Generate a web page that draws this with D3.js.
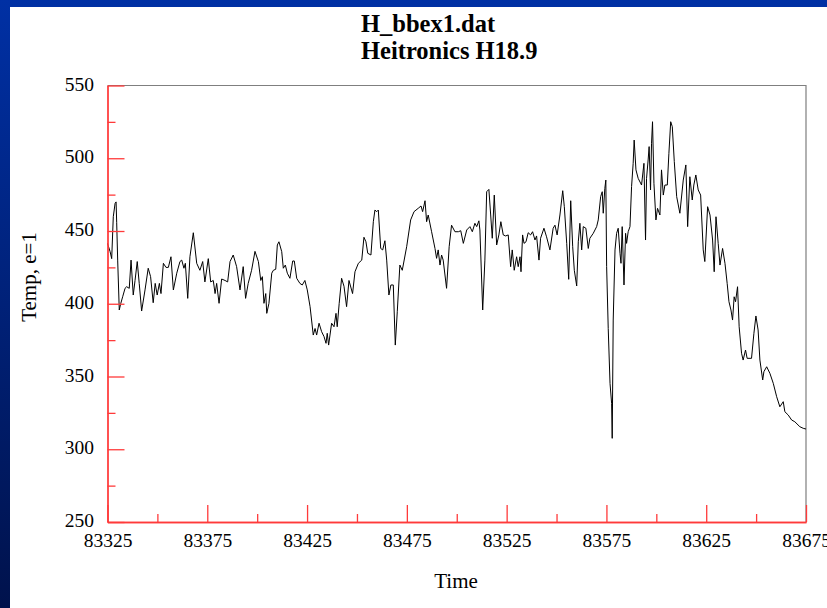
<!DOCTYPE html>
<html>
<head>
<meta charset="utf-8">
<script src="https://cdn.jsdelivr.net/npm/d3@7/dist/d3.min.js"></script>
<style>
  html, body { margin: 0; padding: 0; background: #ffffff; overflow: hidden; }
  svg { display: block; }
</style>
</head>
<body>
<script>
// ---- Data ----
const titleLines = ["H_bbex1.dat", "Heitronics H18.9"];
const xLabel = "Time";
const yLabel = "Temp, e=1";
const xMajorTicks = [83325, 83375, 83425, 83475, 83525, 83575, 83625, 83675];
const xMinorTicks = [83350, 83400, 83450, 83500, 83550, 83600, 83650];
const yMajorTicks = [250, 300, 350, 400, 450, 500, 550];
const yMinorTicks = [275, 325, 375, 425, 475, 525];

const times = [
  83325.0, 83326.3, 83327.1, 83327.9, 83328.8, 83329.3, 83329.6, 83330.1, 83330.9, 83331.6,
  83332.6, 83333.8, 83334.6, 83335.9, 83336.8, 83337.9, 83338.8, 83339.9, 83340.9, 83342.1,
  83343.8, 83345.4, 83346.6, 83347.9, 83348.9, 83349.9, 83351.0, 83351.8, 83353.0, 83354.3,
  83355.5, 83356.8, 83358.0, 83359.7, 83361.3, 83362.2, 83363.3, 83364.0, 83365.2, 83366.3,
  83368.0, 83369.7, 83371.3, 83372.7, 83373.8, 83375.5, 83376.7, 83378.0, 83378.9, 83379.7,
  83380.9, 83382.2, 83383.9, 83385.2, 83386.4, 83388.0, 83389.7, 83391.4, 83393.0, 83394.2,
  83395.5, 83397.2, 83398.9, 83400.6, 83401.8, 83402.6, 83403.4, 83404.3, 83404.8, 83405.9,
  83407.3, 83408.1, 83409.3, 83410.1, 83410.9, 83412.3, 83413.1, 83414.1, 83415.1, 83416.4,
  83417.8, 83418.6, 83419.8, 83421.4, 83422.6, 83423.9, 83425.1, 83426.5, 83428.1, 83429.0,
  83429.8, 83431.0, 83432.3, 83433.5, 83434.5, 83435.1, 83435.8, 83437.3, 83438.5, 83439.5,
  83440.1, 83441.1, 83442.3, 83443.5, 83444.8, 83446.0, 83447.8, 83449.0, 83450.7, 83452.4,
  83453.5, 83454.5, 83455.4, 83457.0, 83458.2, 83459.0, 83459.9, 83460.7, 83461.9, 83462.9,
  83464.0, 83464.9, 83466.0, 83467.0, 83468.2, 83469.2, 83470.2, 83471.5, 83472.7, 83474.9,
  83476.9, 83478.6, 83480.7, 83482.1, 83482.9, 83484.1, 83484.9, 83485.7, 83487.4, 83489.1,
  83489.9, 83490.7, 83491.6, 83492.4, 83493.2, 83494.9, 83496.2, 83497.4, 83499.1, 83500.8,
  83502.0, 83503.3, 83505.0, 83506.6, 83507.8, 83509.1, 83510.0, 83511.1, 83511.6, 83513.0,
  83514.1, 83515.0, 83516.1, 83517.0, 83517.8, 83518.8, 83520.0, 83521.1, 83522.1, 83523.3,
  83524.5, 83525.8, 83527.0, 83527.8, 83528.8, 83530.0, 83530.8, 83531.7, 83532.2, 83533.0,
  83533.7, 83534.7, 83535.8, 83537.0, 83538.0, 83539.2, 83540.0, 83541.2, 83542.0, 83543.7,
  83545.0, 83546.7, 83548.3, 83549.2, 83550.3, 83551.7, 83553.1, 83553.9, 83555.1, 83556.1,
  83557.1, 83558.1, 83558.9, 83560.1, 83560.9, 83561.7, 83562.6, 83563.4, 83564.7, 83565.9,
  83566.7, 83568.4, 83570.1, 83570.9, 83572.1, 83572.9, 83573.4, 83574.2, 83574.7, 83575.1,
  83575.9, 83576.8, 83577.6, 83577.9, 83578.4, 83579.3, 83580.1, 83580.9, 83581.8, 83582.3,
  83582.9, 83583.8, 83584.6, 83585.1, 83585.9, 83586.8, 83587.6, 83588.4, 83588.9, 83589.8,
  83590.9, 83592.6, 83593.8, 83594.6, 83595.1, 83595.9, 83596.4, 83597.1, 83597.6, 83598.1,
  83598.8, 83599.8, 83600.6, 83601.8, 83602.6, 83603.5, 83604.3, 83605.5, 83606.3, 83607.2,
  83608.0, 83609.0, 83610.2, 83611.8, 83613.5, 83614.8, 83615.7, 83616.8, 83618.0, 83618.8,
  83619.8, 83621.0, 83622.2, 83623.5, 83624.3, 83625.7, 83626.9, 83628.2, 83629.0, 83629.9,
  83631.0, 83631.9, 83633.2, 83634.4, 83635.5, 83636.4, 83637.4, 83638.2, 83639.0, 83639.7,
  83640.7, 83641.5, 83642.7, 83643.5, 83644.7, 83645.5, 83647.7, 83648.9, 83649.9, 83651.0,
  83651.9, 83653.3, 83653.9, 83655.3, 83656.9, 83658.6, 83660.3, 83661.9, 83663.6, 83664.4,
  83666.1, 83667.8, 83669.4, 83671.9, 83673.6, 83675.0
];
const temps = [
  441.5, 435.8, 431.0, 459.8, 469.0, 470.0, 456.0, 430.0, 395.7, 400.0,
  404.8, 410.6, 411.7, 410.6, 430.0, 406.0, 416.0, 429.0, 414.0, 395.0,
  409.5, 424.4, 418.6, 400.7, 414.0, 406.0, 414.0, 407.0, 427.8, 425.0,
  425.0, 432.3, 409.5, 421.0, 429.0, 430.0, 424.4, 427.8, 403.7, 432.3,
  448.8, 427.8, 423.0, 429.0, 415.0, 431.0, 415.0, 416.0, 407.0, 414.0,
  400.3, 417.0, 416.0, 415.0, 429.0, 433.5, 425.5, 409.5, 425.5, 403.7,
  414.0, 423.0, 436.0, 429.0, 416.0, 418.6, 400.3, 407.0, 393.4, 400.3,
  421.0, 423.0, 423.7, 440.4, 442.6, 435.8, 424.4, 426.6, 421.0, 417.5,
  429.4, 429.4, 417.5, 414.0, 412.9, 416.0, 409.5, 398.0, 378.5, 383.0,
  378.5, 386.6, 380.8, 377.4, 372.8, 379.7, 371.6, 386.6, 384.2, 393.4,
  384.2, 400.3, 417.5, 412.0, 398.0, 416.0, 407.0, 422.0, 427.8, 430.0,
  445.7, 442.6, 434.7, 433.5, 456.4, 464.4, 463.3, 464.4, 438.0, 437.0,
  443.3, 430.0, 406.0, 412.9, 412.9, 371.6, 394.5, 426.6, 423.0, 439.2,
  457.6, 463.3, 465.6, 467.2, 463.3, 470.8, 456.4, 461.0, 449.5, 438.0,
  431.2, 437.0, 426.6, 433.5, 430.0, 410.6, 439.2, 454.0, 449.5, 449.5,
  450.2, 441.5, 450.7, 453.0, 449.5, 455.3, 453.0, 457.0, 450.7, 395.7,
  430.0, 477.0, 478.6, 461.0, 445.0, 474.7, 440.4, 447.3, 456.4, 447.3,
  446.6, 447.3, 425.5, 437.0, 423.0, 432.3, 425.5, 432.3, 422.0, 447.3,
  441.5, 442.6, 448.8, 447.3, 449.5, 443.8, 446.6, 430.0, 445.0, 451.9,
  446.0, 437.0, 451.9, 454.0, 447.3, 461.0, 477.7, 466.7, 441.5, 416.8,
  470.8, 439.2, 423.0, 412.2, 442.6, 455.3, 437.0, 453.0, 451.9, 438.0,
  445.0, 448.4, 453.0, 457.6, 473.6, 477.0, 462.2, 479.3, 485.0, 425.5,
  383.0, 345.3, 331.6, 307.5, 388.8, 437.0, 448.4, 451.9, 434.7, 427.8,
  453.0, 412.9, 448.4, 441.5, 449.5, 453.0, 480.5, 496.5, 512.5, 492.0,
  486.2, 481.6, 496.5, 443.8, 486.2, 498.8, 508.0, 478.2, 510.3, 525.1,
  482.8, 457.6, 465.6, 461.0, 492.0, 474.7, 481.6, 481.6, 503.4, 525.1,
  521.7, 497.7, 473.6, 462.2, 485.0, 495.4, 453.0, 487.3, 471.3, 481.6,
  488.5, 478.2, 474.7, 437.0, 429.0, 466.7, 461.0, 443.8, 422.0, 459.8,
  441.5, 426.6, 438.0, 427.8, 414.0, 401.4, 395.7, 388.8, 404.8, 401.4,
  411.7, 384.2, 366.0, 361.3, 368.2, 362.5, 362.5, 379.7, 391.6, 382.0,
  361.3, 347.6, 353.3, 356.7, 352.2, 345.3, 336.1, 329.2, 332.7, 325.8,
  323.5, 320.1, 318.9, 315.5, 314.4, 313.9
];

// ---- Layout ----
const W = 827, H = 608;
const plot = { left: 107.5, right: 806, top: 85.5, bottom: 522 };
const axisRed = "#ff3a3a";
const frameGray = "#7f7f7f";
const serif = "'Liberation Serif', 'Times New Roman', serif";

const svg = d3.select("body").append("svg")
  .attr("width", W).attr("height", H);

const defs = svg.append("defs");
const grad = defs.append("linearGradient").attr("id", "bg")
  .attr("x1", 0).attr("y1", 0).attr("x2", 0).attr("y2", 1);
grad.append("stop").attr("offset", "0%").attr("stop-color", "#0030a4");
grad.append("stop").attr("offset", "100%").attr("stop-color", "#00124c");

svg.append("rect").attr("width", W).attr("height", H).attr("fill", "url(#bg)");
svg.append("rect").attr("x", 10).attr("y", 7).attr("width", W - 10).attr("height", H - 7)
  .attr("fill", "#ffffff");

const x = d3.scaleLinear().domain([83325, 83675]).range([plot.left, plot.right]);
const y = d3.scaleLinear().domain([250, 550]).range([plot.bottom, plot.top]);

// Frame (top & right) in gray
svg.append("path")
  .attr("d", `M${plot.left},${plot.top}H${plot.right}V${plot.bottom}`)
  .attr("fill", "none").attr("stroke", frameGray).attr("stroke-width", 1.2);

// Data line
const data = times.map((t, i) => [t, temps[i]]);
svg.append("path")
  .datum(data)
  .attr("fill", "none")
  .attr("stroke", "#000")
  .attr("stroke-width", 1)
  .attr("stroke-linejoin", "miter")
  .attr("d", d3.line().x(d => x(d[0])).y(d => y(d[1])));

// Axes
function styleAxis(g) {
  g.selectAll("path.domain").attr("stroke", axisRed).attr("stroke-width", 1.3);
  g.selectAll(".tick line").attr("stroke", axisRed).attr("stroke-width", 1.3);
  g.selectAll("text").attr("fill", "#000")
    .style("font-family", serif).style("font-size", "19.5px");
}

// x minor
svg.append("g").attr("transform", `translate(0,${plot.bottom})`)
  .call(d3.axisBottom(x).tickValues(xMinorTicks).tickSize(-8).tickSizeOuter(0).tickFormat(""))
  .call(styleAxis);
// x major
svg.append("g").attr("transform", `translate(0,${plot.bottom})`)
  .call(d3.axisBottom(x).tickValues(xMajorTicks).tickSize(-17).tickSizeOuter(0)
    .tickPadding(11).tickFormat(d3.format("d")))
  .call(styleAxis)
  .call(g => g.selectAll("text").attr("dy", "0.71em"));

// y minor
svg.append("g").attr("transform", `translate(${plot.left},0)`)
  .call(d3.axisLeft(y).tickValues(yMinorTicks).tickSize(-8).tickSizeOuter(0).tickFormat(""))
  .call(styleAxis);
// y major
svg.append("g").attr("transform", `translate(${plot.left},0)`)
  .call(d3.axisLeft(y).tickValues(yMajorTicks).tickSize(-17).tickSizeOuter(0)
    .tickPadding(13.5).tickFormat(d3.format("d")))
  .call(styleAxis)
  .call(g => g.selectAll("text").attr("dy", "0.24em"));

// Titles
titleLines.forEach((t, i) => {
  svg.append("text")
    .attr("x", 361).attr("y", 32 + i * 27)
    .attr("text-anchor", "start")
    .style("font-family", serif).style("font-size", "24.5px").style("font-weight", "bold")
    .attr("fill", "#000")
    .text(t);
});

// Axis labels
svg.append("text")
  .attr("x", 456).attr("y", 588)
  .attr("text-anchor", "middle")
  .style("font-family", serif).style("font-size", "21px")
  .attr("fill", "#000")
  .text(xLabel);

svg.append("text")
  .attr("transform", "translate(36,277) rotate(-90)")
  .attr("text-anchor", "middle")
  .style("font-family", serif).style("font-size", "21px")
  .attr("fill", "#000")
  .text(yLabel);
</script>
</body>
</html>
